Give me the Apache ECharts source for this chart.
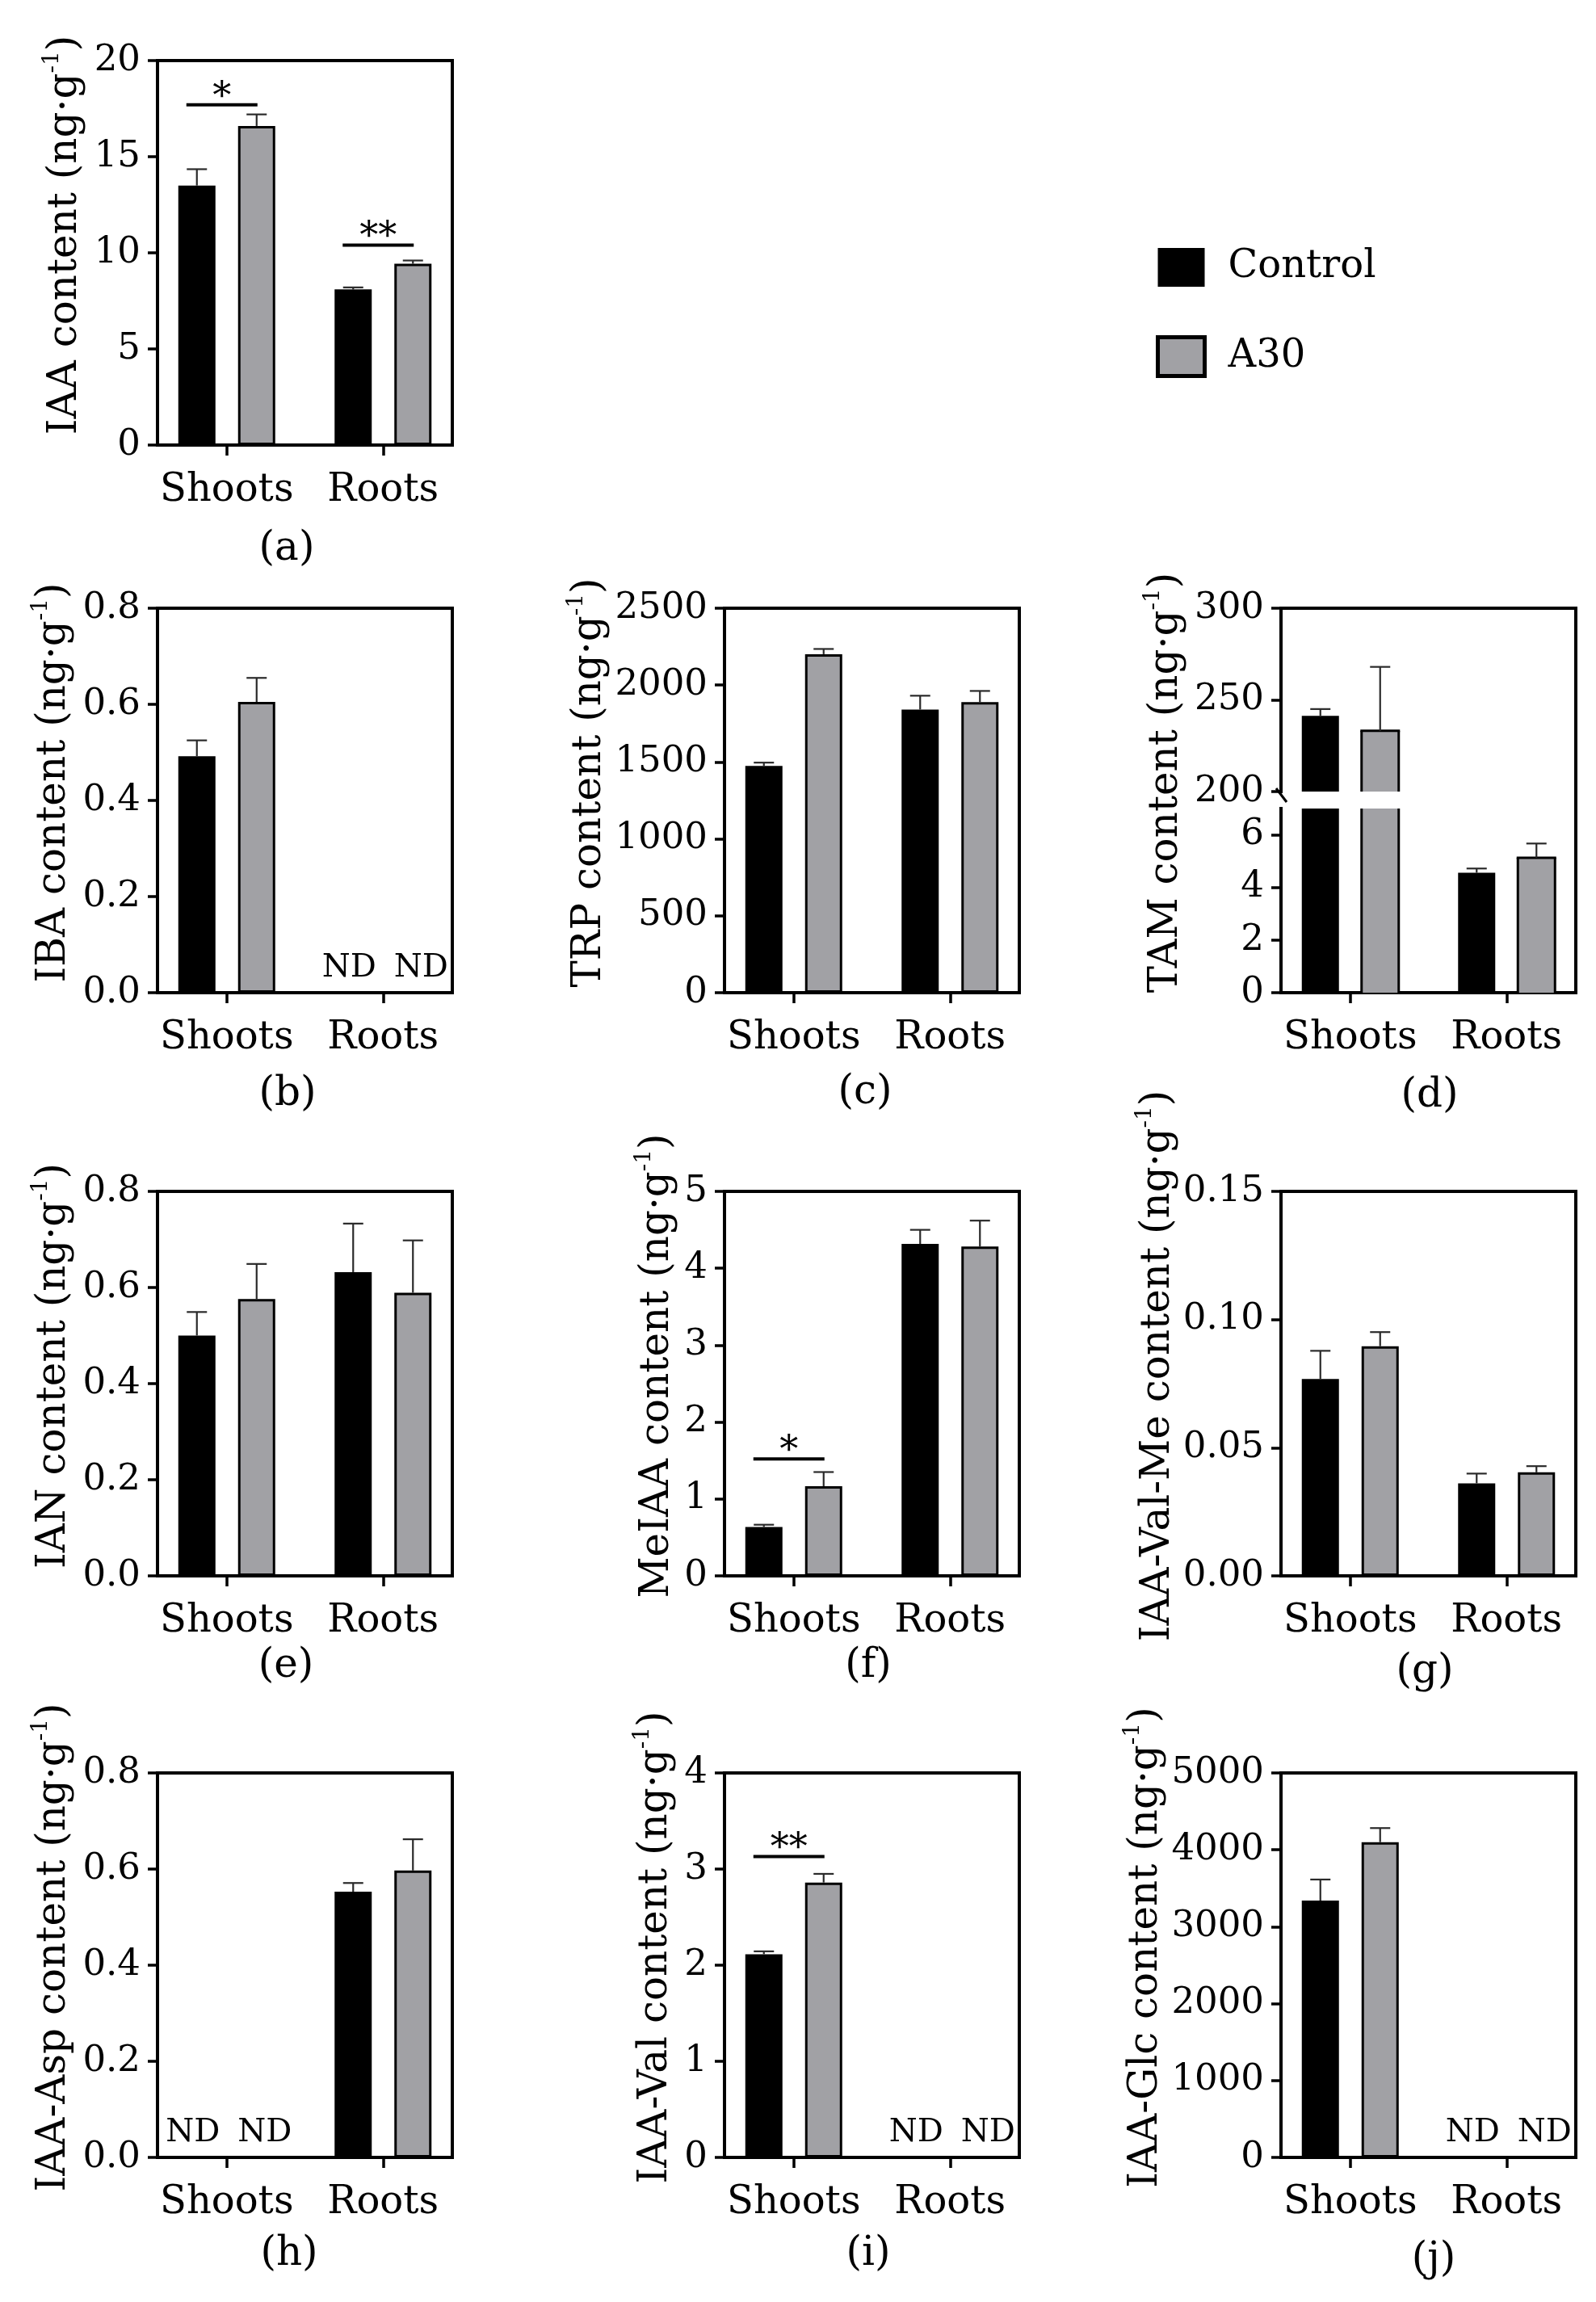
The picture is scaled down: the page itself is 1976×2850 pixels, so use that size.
<!DOCTYPE html>
<html><head><meta charset="utf-8">
<script src="https://cdn.jsdelivr.net/npm/echarts@6/dist/echarts.min.js"></script>
<style>html,body{margin:0;padding:0;background:#fff}#c{width:1976px;height:2850px}</style>
</head><body><div id="c"></div>
<script>
// ---------------- DATA ----------------
const categories = ['Shoots', 'Roots'];
const seriesNames = ['Control', 'A30'];

// (a) IAA
const iaaTicks = ['0', '5', '10', '15', '20'];
const iaaControl = [13.5, 8.1];
const iaaControlErr = [0.85, 0.1];
const iaaA30 = [16.6, 9.43];
const iaaA30Err = [0.6, 0.17];
const iaaSigText = ['*', '**'];
const iaaSigY = [17.7, 10.4];

// (b) IBA
const ibaTicks = ['0.0', '0.2', '0.4', '0.6', '0.8'];
const ibaControl = [0.492, null];
const ibaControlErr = [0.033, null];
const ibaA30 = [0.605, null];
const ibaA30Err = [0.05, null];

// (c) TRP
const trpTicks = ['0', '500', '1000', '1500', '2000', '2500'];
const trpControl = [1474, 1841];
const trpControlErr = [22, 90];
const trpA30 = [2201, 1889];
const trpA30Err = [34, 73];

// (d) TAM (broken axis)
const tamTicksLow = ['0', '2', '4', '6'];
const tamTicksHigh = ['200', '250', '300'];
const tamLowMax = 7;
const tamControl = [241.3, 4.56];
const tamControlErr = [3.7, 0.16];
const tamA30 = [233.1, 5.13];
const tamA30Err = [34.9, 0.54];

// (e) IAN
const ianTicks = ['0.0', '0.2', '0.4', '0.6', '0.8'];
const ianControl = [0.5, 0.632];
const ianControlErr = [0.049, 0.101];
const ianA30 = [0.576, 0.589];
const ianA30Err = [0.073, 0.109];

// (f) MeIAA
const meiaaTicks = ['0', '1', '2', '3', '4', '5'];
const meiaaControl = [0.636, 4.316];
const meiaaControlErr = [0.029, 0.184];
const meiaaA30 = [1.166, 4.282];
const meiaaA30Err = [0.184, 0.338];
const meiaaSigText = ['*', null];
const meiaaSigY = [1.52, null];

// (g) IAA-Val-Me
const valMeTicks = ['0.00', '0.05', '0.10', '0.15'];
const valMeControl = [0.0768, 0.0361];
const valMeControlErr = [0.011, 0.0038];
const valMeA30 = [0.0896, 0.0404];
const valMeA30Err = [0.0055, 0.0024];

// (h) IAA-Asp
const aspTicks = ['0.0', '0.2', '0.4', '0.6', '0.8'];
const aspControl = [null, 0.553];
const aspControlErr = [null, 0.018];
const aspA30 = [null, 0.597];
const aspA30Err = [null, 0.065];

// (i) IAA-Val
const valTicks = ['0', '1', '2', '3', '4'];
const valControl = [2.114, null];
const valControlErr = [0.03, null];
const valA30 = [2.86, null];
const valA30Err = [0.09, null];
const valSigText = ['**', null];
const valSigY = [3.13, null];

// (j) IAA-Glc
const glcTicks = ['0', '1000', '2000', '3000', '4000', '5000'];
const glcControl = [3340, null];
const glcControlErr = [274, null];
const glcA30 = [4100, null];
const glcA30Err = [183, null];

// ---------------- LAYOUT / STYLE ----------------
const FONT = "'DejaVu Serif', serif";
const BLACK = '#000000';
const GRAY = '#a1a1a5';
const W = 365, H = 476;
const COLS = [195, 897, 1586];
const ROWS = [75, 753, 1475, 2195];
const EXTEND = 11;
const BAR_W = 46, BAR_GAP = 28, HALF = (BAR_W + BAR_GAP) / 2, CAP = 25;
const CAT_FONT = 48, TICK_FONT = 45;

const panels = [
  {cap: '(a)', title: 'IAA', col: 0, row: 0, ticks: iaaTicks, c: iaaControl, ce: iaaControlErr, t: iaaA30, te: iaaA30Err, sigText: iaaSigText, sigY: iaaSigY, nameGap: 84, capPos: [355, 680]},
  {cap: '(b)', title: 'IBA', col: 0, row: 1, ticks: ibaTicks, c: ibaControl, ce: ibaControlErr, t: ibaA30, te: ibaA30Err, nameGap: 98, capPos: [356, 1355]},
  {cap: '(c)', title: 'TRP', col: 1, row: 1, ticks: trpTicks, c: trpControl, ce: trpControlErr, t: trpA30, te: trpA30Err, nameGap: 137, capPos: [1071, 1353]},
  {cap: '(d)', title: 'TAM', col: 2, row: 1, broken: true, ticksLow: tamTicksLow, ticksHigh: tamTicksHigh, lowMax: tamLowMax, c: tamControl, ce: tamControlErr, t: tamA30, te: tamA30Err, nameGap: 112, capPos: [1770, 1357]},
  {cap: '(e)', title: 'IAN', col: 0, row: 2, ticks: ianTicks, c: ianControl, ce: ianControlErr, t: ianA30, te: ianA30Err, nameGap: 98, capPos: [354, 2063]},
  {cap: '(f)', title: 'MeIAA', col: 1, row: 2, ticks: meiaaTicks, c: meiaaControl, ce: meiaaControlErr, t: meiaaA30, te: meiaaA30Err, sigText: meiaaSigText, sigY: meiaaSigY, nameGap: 53, capPos: [1075, 2063]},
  {cap: '(g)', title: 'IAA-Val-Me', col: 2, row: 2, ticks: valMeTicks, c: valMeControl, ce: valMeControlErr, t: valMeA30, te: valMeA30Err, nameGap: 122, capPos: [1764, 2070]},
  {cap: '(h)', title: 'IAA-Asp', col: 0, row: 3, ticks: aspTicks, c: aspControl, ce: aspControlErr, t: aspA30, te: aspA30Err, nameGap: 98, capPos: [358, 2791]},
  {cap: '(i)', title: 'IAA-Val', col: 1, row: 3, ticks: valTicks, c: valControl, ce: valControlErr, t: valA30, te: valA30Err, sigText: valSigText, sigY: valSigY, nameGap: 55, capPos: [1075, 2791]},
  {cap: '(j)', title: 'IAA-Glc', col: 2, row: 3, ticks: glcTicks, c: glcControl, ce: glcControlErr, t: glcA30, te: glcA30Err, nameGap: 137, capPos: [1775, 2798]}
];

const grids = [], xAxes = [], yAxes = [], series = [], graphics = [];
const LINE = {show: true, onZero: false, lineStyle: {color: BLACK, width: 4, cap: 'square'}};
const NO = {show: false};

function addGrid(g) {
  grids.push(Object.assign({containLabel: false, outerBoundsMode: 'none'}, g));
  return grids.length - 1;
}
function hiddenAxis(gi, extra) {
  return Object.assign({gridIndex: gi, type: 'value', min: 0, max: 1,
    axisLine: {show: false, onZero: false}, axisTick: NO, axisLabel: NO, splitLine: NO}, extra || {});
}
function labelFor(labels, v) {
  for (const l of labels) if (Math.abs(Number(l) - v) < 1e-9) return l;
  return '';
}
function visibleYAxis(gi, labels, minV, maxV) {
  const vals = labels.map(Number);
  return {
    gridIndex: gi, type: 'value', position: 'left', min: minV, max: maxV, interval: vals[1] - vals[0],
    axisLine: LINE,
    axisTick: {show: true, inside: false, length: 12, lineStyle: {color: BLACK, width: 3.5}, customValues: vals},
    axisLabel: {show: true, margin: 21, fontSize: TICK_FONT, fontFamily: FONT, color: BLACK, customValues: vals,
      formatter: v => labelFor(labels, v)},
    splitLine: NO
  };
}
function nameOpts(p) {
  return {
    name: '{m|' + p.title + ' content (ng·g}{s|-1}{m|)}',
    nameLocation: 'middle', nameRotate: 90, nameGap: p.nameGap, nameMoveOverlap: false,
    nameTextStyle: {padding: [0, 0, 0, 44], rich: {
      m: {fontSize: 50, lineHeight: 60, fontFamily: FONT, color: BLACK},
      s: {fontSize: 28, lineHeight: 28, verticalAlign: 'top', fontFamily: FONT, color: BLACK}
    }}
  };
}
function barData(vals, isA30) {
  return vals.map(v => v == null ? {
    value: 0, itemStyle: {color: 'rgba(0,0,0,0)', borderWidth: 0},
    label: {show: true, formatter: 'ND', position: 'top', distance: 10, offset: [isA30 ? 10 : -5, 0],
      fontSize: 40, fontFamily: FONT, color: BLACK}
  } : v);
}
function errData(vals, errs, s, keep) {
  const out = [];
  vals.forEach((v, i) => {
    if (v != null && errs[i] != null && (!keep || keep(v))) out.push([i, v, errs[i], s]);
  });
  return out;
}
function renderErr(params, api) {
  const ci = api.value(0), v = api.value(1), e = api.value(2), s = api.value(3);
  const p0 = api.coord([ci, v]), p1 = api.coord([ci, v + e]);
  const x = p0[0] + (s === 0 ? -HALF : HALF);
  const st = {stroke: '#2a2a2a', lineWidth: 2.2};
  return {type: 'group', children: [
    {type: 'line', shape: {x1: x, y1: p0[1], x2: x, y2: p1[1]}, style: st},
    {type: 'line', shape: {x1: x - CAP / 2, y1: p1[1], x2: x + CAP / 2, y2: p1[1]}, style: st}
  ]};
}
// bars of the broken-axis panel: cut cleanly at the segment edges (no border on the cut)
function renderCutBar(params, api) {
  const ci = api.value(0), v = api.value(1), s = api.value(2);
  const cs = params.coordSys;
  const pTop = api.coord([ci, v]), pBase = api.coord([ci, 0]);
  const yTop = Math.max(pTop[1], cs.y), yBot = Math.min(pBase[1], cs.y + cs.height);
  if (!(yBot > yTop)) return null;
  const xc = pTop[0] + (s === 0 ? -HALF : HALF), x0 = xc - BAR_W / 2, x1 = xc + BAR_W / 2;
  const children = [{type: 'rect', shape: {x: x0, y: yTop, width: BAR_W, height: yBot - yTop},
    style: {fill: s === 0 ? BLACK : GRAY}}];
  if (s === 1) {
    const st = {stroke: BLACK, lineWidth: 3};
    children.push({type: 'line', shape: {x1: x0, y1: yTop, x2: x0, y2: yBot}, style: st});
    children.push({type: 'line', shape: {x1: x1, y1: yTop, x2: x1, y2: yBot}, style: st});
    if (pTop[1] >= cs.y) children.push({type: 'line', shape: {x1: x0 - 1.5, y1: yTop, x2: x1 + 1.5, y2: yTop}, style: st});
  }
  return {type: 'group', children: children};
}
// data grid (bars) -> returns axis indices
function addDataGrid(L, T, h, minV, maxV, showX) {
  const di = addGrid({left: L - EXTEND, top: T, width: W + 2 * EXTEND, height: h});
  xAxes.push({gridIndex: di, type: 'category', data: categories, position: 'bottom',
    axisLine: {show: false, onZero: false},
    axisTick: {show: showX, alignWithLabel: true, inside: false, length: 13, lineStyle: {color: BLACK, width: 3.5}},
    axisLabel: {show: showX, interval: 0, hideOverlap: false, margin: 33, fontSize: CAT_FONT, fontFamily: FONT, color: BLACK},
    splitLine: NO});
  yAxes.push(hiddenAxis(di, {min: minV, max: maxV}));
  return {xi: xAxes.length - 1, yi: yAxes.length - 1};
}
function addBars(ax, p) {
  series.push({type: 'bar', name: seriesNames[0], xAxisIndex: ax.xi, yAxisIndex: ax.yi,
    data: barData(p.c, false),
    barWidth: BAR_W, barGap: (BAR_GAP / BAR_W * 100) + '%', clip: true, silent: true,
    itemStyle: {color: BLACK}});
  series.push({type: 'bar', name: seriesNames[1], xAxisIndex: ax.xi, yAxisIndex: ax.yi,
    data: barData(p.t, true),
    barWidth: BAR_W, barGap: (BAR_GAP / BAR_W * 100) + '%', clip: true, silent: true,
    itemStyle: {color: GRAY, borderColor: BLACK, borderWidth: 3}});
  series.push({type: 'custom', xAxisIndex: ax.xi, yAxisIndex: ax.yi, silent: true, z: 5,
    data: errData(p.c, p.ce, 0).concat(errData(p.t, p.te, 1)), renderItem: renderErr});
}
function addCutBars(ax, p, keep) {
  const data = [];
  p.c.forEach((v, i) => { if (v != null) data.push([i, v, 0]); });
  p.t.forEach((v, i) => { if (v != null) data.push([i, v, 1]); });
  series.push({type: 'custom', xAxisIndex: ax.xi, yAxisIndex: ax.yi, silent: true, z: 2,
    data: data, renderItem: renderCutBar});
  series.push({type: 'custom', xAxisIndex: ax.xi, yAxisIndex: ax.yi, silent: true, z: 5,
    data: errData(p.c, p.ce, 0, keep).concat(errData(p.t, p.te, 1, keep)), renderItem: renderErr});
}

panels.forEach(p => {
  const L = COLS[p.col], T = ROWS[p.row];
  // frame grid
  const fi = addGrid({left: L, top: T, width: W, height: H});
  xAxes.push(hiddenAxis(fi, {position: 'bottom', axisLine: LINE}));
  xAxes.push(hiddenAxis(fi, {position: 'top', axisLine: LINE}));
  yAxes.push(hiddenAxis(fi, {position: 'right', axisLine: LINE}));

  if (!p.broken) {
    const vals = p.ticks.map(Number);
    const minV = vals[0], maxV = vals[vals.length - 1];
    yAxes.push(Object.assign(visibleYAxis(fi, p.ticks, minV, maxV), nameOpts(p)));
    const ax = addDataGrid(L, T, H, minV, maxV, true);
    addBars(ax, p);
    if (p.sigY) {
      const items = [];
      p.sigY.forEach((y, i) => { if (y != null) items.push({ci: i, y: y, text: p.sigText[i]}); });
      series.push({type: 'custom', xAxisIndex: ax.xi, yAxisIndex: ax.yi, silent: true, z: 6,
        data: items.map(it => [it.ci, it.y]),
        renderItem: (params, api) => {
          const it = items[params.dataIndex];
          const pt = api.coord([api.value(0), api.value(1)]);
          const x1 = pt[0] - HALF - 13, x2 = pt[0] + HALF + 1;
          return {type: 'group', children: [
            {type: 'line', shape: {x1: x1, y1: pt[1], x2: x2, y2: pt[1]}, style: {stroke: BLACK, lineWidth: 4}},
            {type: 'text', x: (x1 + x2) / 2, y: pt[1] - 8,
              style: {text: it.text, fontSize: 46, fontFamily: FONT, fill: BLACK, align: 'center', verticalAlign: 'middle'}}
          ]};
        }});
    }
  } else {
    yAxes.push(Object.assign(hiddenAxis(fi, {position: 'left'}), nameOpts(p)));
    const GAP = 21;
    const hU = Math.round((H - GAP) / 2) - 1, hL = H - GAP - hU;
    const hiVals = p.ticksHigh.map(Number);
    const hiMin = hiVals[0], hiMax = hiVals[hiVals.length - 1];
    // upper segment
    const ui = addGrid({left: L, top: T, width: W, height: hU});
    xAxes.push(hiddenAxis(ui));
    yAxes.push(visibleYAxis(ui, p.ticksHigh, hiMin, hiMax));
    const axU = addDataGrid(L, T, hU, hiMin, hiMax, false);
    addCutBars(axU, p, v => v >= hiMin);
    // lower segment
    const li = addGrid({left: L, top: T + H - hL, width: W, height: hL});
    xAxes.push(hiddenAxis(li));
    yAxes.push(visibleYAxis(li, p.ticksLow, 0, p.lowMax));
    const axL = addDataGrid(L, T + H - hL, hL, 0, p.lowMax, true);
    addCutBars(axL, p, v => v <= p.lowMax);
    // break mark on the left axis
    const gy = T + hU;
    graphics.push({type: 'line', silent: true,
      shape: {x1: L - 6, y1: gy - 4, x2: L + 7, y2: gy + 13},
      style: {stroke: BLACK, lineWidth: 3}});
  }
  graphics.push({type: 'text', silent: true, x: p.capPos[0], y: p.capPos[1],
    style: {text: p.cap, fontSize: 50, fontFamily: FONT, fill: BLACK, align: 'center', verticalAlign: 'middle'}});
});

const chart = echarts.init(document.getElementById('c'), null, {renderer: 'canvas', width: 1976, height: 2850});
chart.setOption({
  animation: false,
  backgroundColor: '#ffffff',
  textStyle: {fontFamily: FONT, color: BLACK},
  legend: {
    show: true, orient: 'vertical', left: 1431, top: 307, padding: 0,
    itemWidth: 58, itemHeight: 48, itemGap: 60, icon: 'rect', selectedMode: false,
    data: [{name: 'Control'}, {name: 'A30', itemStyle: {borderWidth: 5, borderColor: BLACK}}],
    textStyle: {fontSize: 48, fontFamily: FONT, color: BLACK, padding: [0, 0, 0, 24]}
  },
  grid: grids, xAxis: xAxes, yAxis: yAxes, series: series, graphic: graphics
});
</script></body></html>
